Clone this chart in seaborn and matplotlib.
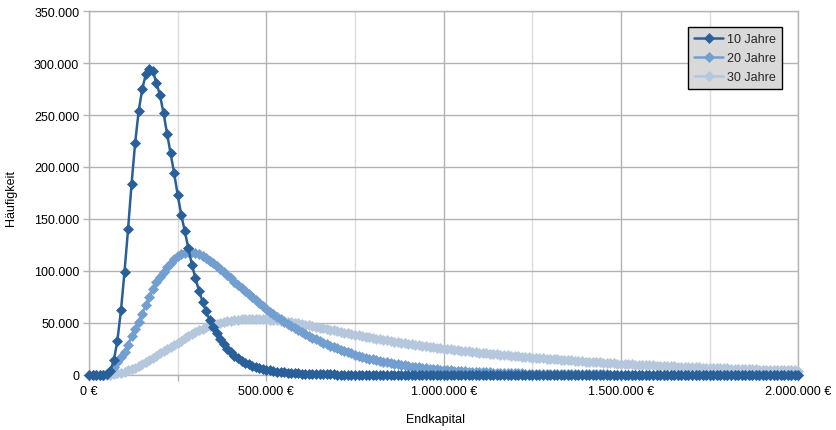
import numpy as np
import pandas as pd
import seaborn as sns
import matplotlib.pyplot as plt
from matplotlib.ticker import FuncFormatter, MultipleLocator

# Endkapital-Klassen (Schritt 10.000 €)
endkapital = np.arange(0, 2000001, 10000)

# Häufigkeit in Tausend
h10 = [0, 0, 0, 0, 0.1, 0.8, 4.0, 14.0, 33.0, 62.0,
       99.0, 140.0, 184.0, 223.0, 254.0, 275.0, 289.0, 294.0, 292.0, 281.0,
       269.0, 252.0, 232.0, 213.0, 194.0, 173.0, 154.0, 138.0, 122.0, 106.0,
       93.0, 81.0, 70.5, 61.0, 53.0, 46.0, 40.0, 34.5, 29.5, 25.3,
       21.7, 18.6, 16.0, 13.7, 11.8, 10.1, 8.7, 7.5, 6.5, 5.6,
       4.8, 4.2, 3.6, 3.1, 2.7, 2.35, 2.05, 1.8, 1.55, 1.35,
       1.18, 1.03, 0.9, 0.79, 0.69, 0.6, 0.53, 0.46, 0.4, 0.35,
       0.31, 0.27, 0.24, 0.21, 0.18, 0.16, 0.14, 0.12, 0.11, 0.1,
       0.09, 0.08, 0.07, 0.06, 0.05, 0.05, 0.04, 0.04, 0.03, 0.03,
       0.03, 0.02, 0.02, 0.02, 0.02, 0.01, 0.01, 0.01, 0.01, 0.01,
       0, 0, 0, 0, 0, 0, 0, 0, 0, 0,
       0, 0, 0, 0, 0, 0, 0, 0, 0, 0,
       0, 0, 0, 0, 0, 0, 0, 0, 0, 0,
       0, 0, 0, 0, 0, 0, 0, 0, 0, 0,
       0, 0, 0, 0, 0, 0, 0, 0, 0, 0,
       0, 0, 0, 0, 0, 0, 0, 0, 0, 0,
       0, 0, 0, 0, 0, 0, 0, 0, 0, 0,
       0, 0, 0, 0, 0, 0, 0, 0, 0, 0,
       0, 0, 0, 0, 0, 0, 0, 0, 0, 0,
       0, 0, 0, 0, 0, 0, 0, 0, 0, 0,
       0]

h20 = [0, 0, 0, 0, 0.3, 1.2, 4.0, 8.0, 12.5, 17.0,
       22.0, 29.0, 37.0, 44.0, 51.0, 59.0, 67.0, 75.0, 83.0, 89.0,
       94.0, 99.0, 104.0, 108.0, 111.0, 114.0, 116.0, 117.5, 118.0, 117.8,
       117.0, 115.8, 114.0, 112.0, 109.7, 107.2, 104.5, 101.7, 98.8, 95.8,
       92.8, 89.8, 86.8, 83.8, 80.8, 77.8, 74.8, 71.8, 68.9, 66.1,
       63.4, 60.8, 58.3, 55.9, 53.5, 51.2, 49.0, 46.9, 44.9, 42.9,
       41.0, 39.2, 37.4, 35.7, 34.1, 32.5, 31.0, 29.5, 28.1, 26.7,
       25.4, 24.1, 22.9, 21.7, 20.6, 19.5, 18.5, 17.5, 16.6, 15.7,
       14.9, 14.1, 13.3, 12.6, 11.9, 11.3, 10.7, 10.1, 9.5, 9.0,
       8.5, 8.0, 7.6, 7.2, 6.8, 6.4, 6.0, 5.7, 5.4, 5.1,
       4.8, 4.5, 4.3, 4.0, 3.8, 3.6, 3.4, 3.2, 3.0, 2.85,
       2.7, 2.55, 2.4, 2.25, 2.1, 2.0, 1.9, 1.8, 1.7, 1.6,
       1.5, 1.42, 1.34, 1.26, 1.19, 1.12, 1.06, 1.0, 0.94, 0.89,
       0.84, 0.79, 0.75, 0.71, 0.67, 0.63, 0.59, 0.56, 0.53, 0.5,
       0.47, 0.44, 0.42, 0.4, 0.37, 0.35, 0.33, 0.31, 0.3, 0.28,
       0.26, 0.25, 0.24, 0.22, 0.21, 0.2, 0.19, 0.18, 0.17, 0.16,
       0.15, 0.14, 0.14, 0.13, 0.12, 0.12, 0.11, 0.1, 0.1, 0.09,
       0.09, 0.08, 0.08, 0.08, 0.07, 0.07, 0.06, 0.06, 0.06, 0.06,
       0.05, 0.05, 0.05, 0.04, 0.04, 0.04, 0.04, 0.04, 0.03, 0.03,
       0.03, 0.03, 0.03, 0.03, 0.02, 0.02, 0.02, 0.02, 0.02, 0.02,
       0.02]

h30 = [0, 0, 0, 0, 0, 0.1, 0.3, 0.7, 1.3, 2.0,
       3.0, 4.2, 5.5, 7.0, 8.7, 10.5, 12.5, 14.5, 16.5, 18.5,
       20.7, 23.0, 25.0, 27.0, 29.0, 31.0, 33.0, 35.0, 37.0, 39.0,
       41.0, 42.8, 44.3, 45.7, 47.0, 48.1, 49.1, 50.0, 50.8, 51.5,
       52.1, 52.6, 53.0, 53.3, 53.5, 53.7, 53.8, 53.8, 53.8, 53.7,
       53.5, 53.2, 52.9, 52.5, 52.1, 51.6, 51.1, 50.6, 50.0, 49.4,
       48.8, 48.2, 47.5, 46.9, 46.2, 45.5, 44.8, 44.1, 43.4, 42.7,
       42.0, 41.3, 40.6, 40.0, 39.3, 38.6, 38.0, 37.3, 36.7, 36.1,
       35.5, 34.9, 34.3, 33.7, 33.1, 32.5, 32.0, 31.4, 30.9, 30.3,
       29.8, 29.3, 28.8, 28.3, 27.9, 27.4, 27.0, 26.5, 26.1, 25.6,
       25.2, 24.8, 24.4, 24.0, 23.6, 23.2, 22.8, 22.5, 22.1, 21.8,
       21.4, 21.1, 20.7, 20.4, 20.0, 19.7, 19.4, 19.0, 18.7, 18.4,
       18.1, 17.8, 17.5, 17.2, 16.9, 16.6, 16.4, 16.1, 15.8, 15.6,
       15.3, 15.0, 14.8, 14.5, 14.3, 14.0, 13.8, 13.5, 13.3, 13.0,
       12.8, 12.6, 12.4, 12.1, 11.9, 11.7, 11.5, 11.3, 11.1, 10.9,
       10.7, 10.5, 10.3, 10.1, 9.9, 9.8, 9.6, 9.4, 9.2, 9.1,
       8.9, 8.7, 8.6, 8.4, 8.3, 8.1, 8.0, 7.8, 7.7, 7.5,
       7.4, 7.3, 7.1, 7.0, 6.9, 6.7, 6.6, 6.5, 6.4, 6.2,
       6.1, 6.0, 5.9, 5.8, 5.7, 5.6, 5.5, 5.4, 5.3, 5.1,
       5.0, 4.9, 4.8, 4.7, 4.7, 4.6, 4.5, 4.4, 4.3, 4.2,
       4.1]

serien = ["10 Jahre", "20 Jahre", "30 Jahre"]
farben = ["#2a6099", "#729fcf", "#b4c7dc"]

df = pd.DataFrame({"Endkapital": endkapital,
                   "10 Jahre": np.array(h10) * 1000,
                   "20 Jahre": np.array(h20) * 1000,
                   "30 Jahre": np.array(h30) * 1000})
df = df.melt(id_vars="Endkapital", var_name="Serie", value_name="Häufigkeit")

sns.set_theme(style="white")
plt.rcParams['font.family'] = ['Liberation Sans', 'DejaVu Sans']

fig, ax = plt.subplots(figsize=(8.36, 4.31), dpi=100)
fig.subplots_adjust(left=0.1065, right=0.955, bottom=0.128, top=0.972)

# 30 Jahre zuerst zeichnen, 10 Jahre liegt oben
for z, (name, col) in enumerate(reversed(list(zip(serien, farben)))):
    sns.lineplot(data=df[df.Serie == name], x="Endkapital", y="Häufigkeit", ax=ax,
                 color=col, marker="D", markersize=5, markeredgecolor=col,
                 markeredgewidth=0.5, linewidth=1.8, label=name, zorder=3 + z,
                 clip_on=False)

ax.set_xlim(0, 2000000)
ax.set_ylim(0, 350000)
ax.xaxis.set_major_locator(MultipleLocator(500000))
ax.xaxis.set_minor_locator(MultipleLocator(250000))
ax.yaxis.set_major_locator(MultipleLocator(50000))

def de_zahl(v):
    return f"{int(round(v)):,}".replace(",", ".")

ax.xaxis.set_major_formatter(FuncFormatter(lambda v, p: de_zahl(v) + " €"))
ax.yaxis.set_major_formatter(FuncFormatter(lambda v, p: de_zahl(v)))

ax.set_axisbelow(True)
ax.grid(which="major", axis="both", color="#b3b3b3", linewidth=1)
ax.grid(which="minor", axis="x", color="#dddddd", linewidth=1)
for s in ax.spines.values():
    s.set_color("#b3b3b3")
    s.set_linewidth(1)

ax.tick_params(axis="both", which="both", bottom=True, left=True, direction="out",
               length=4, width=1, color="#b3b3b3", labelsize=9, labelcolor="black", pad=3)

ax.set_xlabel("Endkapital", fontsize=9, color="black")
ax.set_ylabel("Häufigkeit", fontsize=9, color="black")
ax.xaxis.set_label_coords(0.489, -0.105)
ax.yaxis.set_label_coords(-0.102, 0.49)

handles, labels = ax.get_legend_handles_labels()
order = [labels.index(n) for n in serien]
leg = ax.legend([handles[i] for i in order], [labels[i] for i in order],
                loc="upper right", bbox_to_anchor=(0.977, 0.956), fontsize=9,
                frameon=True, fancybox=False, facecolor="#d9d9d9", edgecolor="black",
                framealpha=1, handlelength=2.3, labelspacing=0.55, borderpad=0.5,
                handletextpad=0.3, borderaxespad=0)
leg.get_frame().set_linewidth(1)

fig.savefig("out.png", dpi=100)
